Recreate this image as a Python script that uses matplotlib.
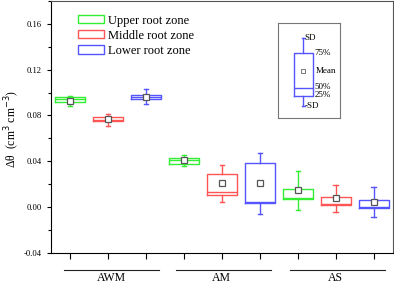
import matplotlib
matplotlib.use("Agg")
import matplotlib.pyplot as plt
from matplotlib.patches import Patch
from matplotlib.ticker import MultipleLocator, FormatStrFormatter
import matplotlib.transforms as mtransforms

plt.rcParams['font.family'] = ['Liberation Serif', 'DejaVu Serif']

# ---- data ----
groups = ["AWM", "AM", "AS"]
zones = ["Upper root zone", "Middle root zone", "Lower root zone"]
zone_colors = ["#33ee33", "#ff5555", "#5555ff"]
positions = [1, 2, 3, 4, 5, 6, 7, 8, 9]
q25 = [0.0921, 0.0753, 0.0947, 0.0376, 0.0102, 0.0032, 0.0070, 0.0021, -0.0005]
q50 = [0.0940, 0.0760, 0.0965, 0.0410, 0.0128, 0.0040, 0.0075, 0.0026, -0.0002]
q75 = [0.0957, 0.0784, 0.0982, 0.0426, 0.0288, 0.0385, 0.0155, 0.0091, 0.0059]
sd_lo = [0.0886, 0.0711, 0.0904, 0.0356, 0.0047, -0.0058, -0.0026, -0.0040, -0.0087]
sd_hi = [0.0974, 0.0810, 0.1031, 0.0452, 0.0371, 0.0472, 0.0318, 0.0196, 0.0178]
means = [0.0926, 0.0771, 0.0965, 0.0411, 0.0213, 0.0207, 0.0146, 0.0079, 0.0047]
group_centers = [2.1, 5.0, 8.0]
group_spans = [(0.85, 3.35), (3.8, 6.3), (6.8, 9.3)]
yticks = [-0.04, 0.00, 0.04, 0.08, 0.12, 0.16]

fig = plt.figure(figsize=(3.94, 2.84), dpi=100)
ax = fig.add_axes([0.1294, 0.110, 0.8673, 0.8865])

for i, p in enumerate(positions):
    c = zone_colors[i % 3]
    stats = [dict(q1=q25[i], med=q50[i], q3=q75[i], whislo=sd_lo[i], whishi=sd_hi[i],
                  mean=means[i], fliers=[])]
    ax.bxp(stats, positions=[p], widths=0.8, showmeans=True, manage_ticks=False,
           boxprops=dict(color=c, lw=1.0),
           medianprops=dict(color=c, lw=1.0),
           whiskerprops=dict(color=c, lw=1.0),
           capprops=dict(color=c, lw=1.0),
           capwidths=0.12,
           meanprops=dict(marker='s', markersize=4.5, markerfacecolor='white',
                          markeredgecolor='#555555', markeredgewidth=0.9))

ax.set_xlim(0.5, 9.5)
ax.set_ylim(-0.04, 0.18)
ax.set_xticks(positions)
ax.set_xticklabels([])
ax.set_yticks(yticks)
ax.yaxis.set_major_formatter(FormatStrFormatter('%.2f'))
ax.yaxis.set_minor_locator(MultipleLocator(0.02))
ax.tick_params(axis='both', which='both', direction='out', labelsize=6.2)
ax.tick_params(axis='y', which='major', length=3, width=0.8)
ax.tick_params(axis='y', which='minor', length=2, width=0.8)
ax.tick_params(axis='x', which='major', length=4, width=0.8)
for s in ax.spines.values():
    s.set_linewidth(0.8)
ax.spines['top'].set_color('#555555')
ax.spines['right'].set_color('#555555')

ax.set_ylabel("Δθ  (cm$^{3}$ cm$^{-3}$)", fontsize=8.5, va='center')
ax.yaxis.set_label_coords(-0.112, 0.49)

# group lines and labels below axis
trans = mtransforms.blended_transform_factory(ax.transData, ax.transAxes)
for g, cx, (x0, x1) in zip(groups, group_centers, group_spans):
    ax.plot([x0, x1], [-0.069, -0.069], transform=trans, color='#222222', lw=0.8, clip_on=False)
    ax.text(cx, -0.114, g, transform=trans, ha='center', va='baseline', fontsize=8.5)

# legend
handles = [Patch(facecolor='none', edgecolor=c, lw=1.0, label=z) for z, c in zip(zones, zone_colors)]
ax.legend(handles=handles, loc='upper left', bbox_to_anchor=(0.064, 0.966), frameon=False,
          fontsize=9, handlelength=2.1, handleheight=0.65, handletextpad=0.35,
          labelspacing=0.25, borderaxespad=0)

# inset key
ins = fig.add_axes([278/394, 1-118/284, 62/394, 95/284])
ins.set_xlim(0, 1)
ins.set_ylim(0, 1)
ins.set_xticks([])
ins.set_yticks([])
for s in ins.spines.values():
    s.set_color('#777777')
    s.set_linewidth(0.8)
key = [dict(q1=0.232, med=0.316, q3=0.684, whislo=0.126, whishi=0.842, mean=0.5, fliers=[])]
ins.bxp(key, positions=[0.41], widths=0.3, showmeans=True, manage_ticks=False,
        boxprops=dict(color='#5555ff', lw=1.0), medianprops=dict(color='#5555ff', lw=1.0),
        whiskerprops=dict(color='#5555ff', lw=1.0), capprops=dict(color='#5555ff', lw=1.0),
        capwidths=0.04,
        meanprops=dict(marker='s', markersize=3, markerfacecolor='white',
                       markeredgecolor='#777777', markeredgewidth=0.7))
fs = 6.5
ins.text(0.43, 0.842, "SD", fontsize=fs, va='center', ha='left')
ins.text(0.59, 0.684, "75%", fontsize=fs, va='center', ha='left')
ins.text(0.61, 0.49, "Mean", fontsize=fs, va='center', ha='left')
ins.text(0.59, 0.33, "50%", fontsize=fs, va='center', ha='left')
ins.text(0.59, 0.24, "25%", fontsize=fs, va='center', ha='left')
ins.text(0.43, 0.126, "-SD", fontsize=fs, va='center', ha='left')

fig.savefig("out.png", dpi=100)
